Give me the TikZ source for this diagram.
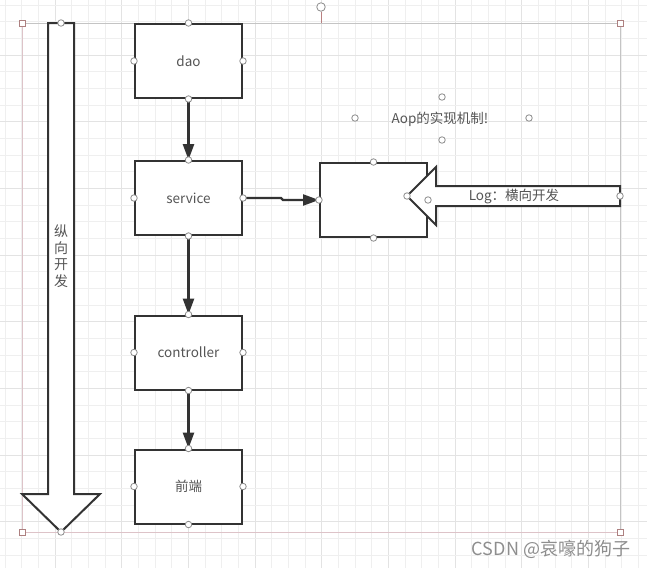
\documentclass[tikz,border=0pt]{standalone}
\usepackage{fontspec}
\setmainfont{Noto Sans CJK SC}
\usetikzlibrary{arrows.meta}

\definecolor{gridminor}{HTML}{EFEFEF}
\definecolor{gridmajor}{HTML}{E3E3E3}
\definecolor{ink}{HTML}{333333}
\definecolor{labelgray}{HTML}{555555}
\definecolor{handlegray}{HTML}{8C8C8C}
\definecolor{selgray}{HTML}{C4C4C4}
\definecolor{selpink}{HTML}{DDC3C8}
\definecolor{pivotred}{HTML}{B88080}
\definecolor{markgray}{HTML}{8E8E8E}

\tikzset{
  layerbox/.style={draw=ink, line width=2pt, fill=white, minimum width=107pt,
    minimum height=74pt, inner sep=0pt, text=labelgray,
    font=\fontsize{13.5}{16}\selectfont},
  conn/.style={draw=ink, line width=2.6pt,
    -{Triangle[length=16pt,width=11pt]}},
  bigarrow/.style={draw=ink, line width=2pt, fill=white, line join=miter},
  handle/.style={circle, draw=handlegray, fill=white, line width=0.8pt,
    inner sep=0pt, minimum size=6.5pt},
  corner/.style={rectangle, draw=pivotred!80!gray, fill=white, line width=0.8pt,
    inner sep=0pt, minimum size=6pt},
  plain/.style={text=labelgray, inner sep=0pt, font=\fontsize{13.5}{16}\selectfont},
}

\begin{document}
\begin{tikzpicture}[x=1pt, y=-1pt]
\useasboundingbox (0,0) rectangle (647,568);
\fill[white] (0,0) rectangle (647,568);

% background grid
\foreach \k in {0,...,38} {
  \pgfmathsetmacro{\gx}{5+\k*16.6667}
  \pgfmathtruncatemacro{\km}{mod(\k,4)}
  \ifnum\km=3
    \draw[gridmajor, line width=1pt] (\gx,0) -- (\gx,568);
  \else
    \draw[gridminor, line width=1pt] (\gx,0) -- (\gx,568);
  \fi
}
\foreach \k in {0,...,34} {
  \pgfmathsetmacro{\gy}{5+\k*16.6667}
  \pgfmathtruncatemacro{\km}{mod(\k,4)}
  \ifnum\km=3
    \draw[gridmajor, line width=1pt] (0,\gy) -- (647,\gy);
  \else
    \draw[gridminor, line width=1pt] (0,\gy) -- (647,\gy);
  \fi
}

% selection frame
\coordinate (tl) at (22,23);
\coordinate (tr) at (620,23);
\coordinate (bl) at (22,532);
\coordinate (br) at (620,532);
\coordinate (rotbase) at (321,23);
\draw[selgray, line width=1pt] (tl) -- (tr) -- (br);
\draw[selpink, line width=1pt] (tl) -- (bl) -- (br);

% vertical development arrow
\draw[bigarrow] (48,23) -- (74,23) -- (74,494) -- (100,494) -- (61,532)
  -- (22,494) -- (48,494) -- cycle;
\node[plain, align=center, font=\fontsize{14}{16.5}\selectfont] (vlabel) at (61,256)
  {纵\\向\\开\\发};

% layer boxes
\node[layerbox] (dao)        at (188.5,61)    {dao};
\node[layerbox] (service)    at (188.5,198)   {service};
\node[layerbox] (controller) at (188.5,352.5) {controller};
\node[layerbox] (frontend)   at (188.5,486.5) {前端};
\node[layerbox] (aopbox)     at (373.5,200)   {};

% vertical connectors
\draw[conn] (dao.south) -- (service.north);
\draw[conn] (service.south) -- (controller.north);
\draw[conn] (controller.south) -- (frontend.north);

% service to aspect box
\draw[conn, line width=2.2pt] (service.east) -- ++(38,0) -- ++(2,2) -- (aopbox.west);

% horizontal development arrow
\draw[bigarrow] (620,186) -- (436,186) -- (436,167) -- (407,196)
  -- (436,225) -- (436,206) -- (620,206) -- cycle;
\node[plain] (hlabel) at (514,196) {Log：横向开发};

% caption
\node[plain] (aop) at (440,119) {Aop的实现机制!};

% connection handles
\foreach \n in {dao,service,controller,frontend}
  \foreach \a in {north,south,east,west}
    \node[handle] at (\n.\a) {};
\foreach \a in {north,south,west,east}
  \node[handle] at (aopbox.\a) {};
\node[handle] at (407,196) {};
\node[handle] at (620,196) {};
\node[handle] at (61,23) {};
\node[handle] at (61,532) {};
\node[handle] at (355,118) {};
\node[handle] at (529,118) {};
\node[handle] at (442,97) {};
\node[handle] at (442,140) {};

% frame corners and rotation knob
\foreach \c in {tl,tr,bl,br}
  \node[corner] at (\c) {};
\node[handle, minimum size=8.5pt] (rot) at (321,7) {};
\draw[pivotred, line width=1pt] (rot.south) -- (rotbase);

% watermark
\node[text=markgray, inner sep=0pt, font=\fontsize{18}{21}\selectfont] (mark)
  at (551,549) {CSDN @哀嚎的狗子};
\end{tikzpicture}
\end{document}
